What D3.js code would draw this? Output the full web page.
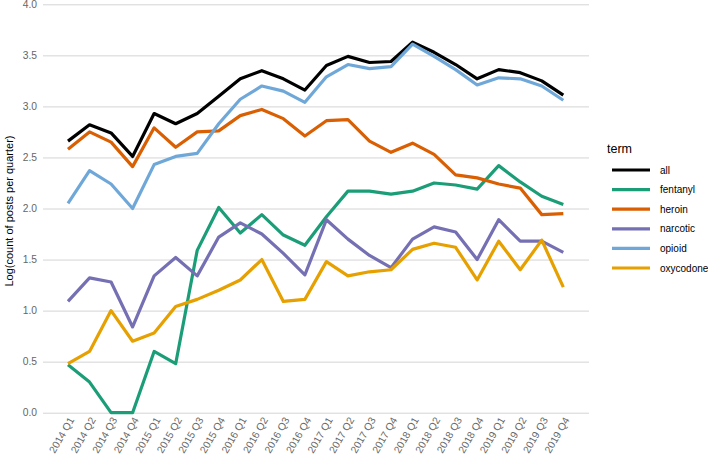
<!DOCTYPE html>
<html>
<head>
<meta charset="utf-8">
<script src="https://cdn.jsdelivr.net/npm/d3@7"></script>
<style>
  body { margin: 0; background: #fff; }
  svg { display: block; font-family: "Liberation Sans", Arial, sans-serif; }
</style>
</head>
<body>
<svg id="chart" width="708" height="456"></svg>
<script>
// data
let quarters = [];
[2014, 2015, 2016, 2017, 2018, 2019].forEach(yr => {
    ['Q1', 'Q2', 'Q3', 'Q4'].forEach(q => quarters.push(yr + ' ' + q));
});
let yTicks = [0, 0.5, 1, 1.5, 2, 2.5, 3, 3.5, 4];

let terms = ['all', 'fentanyl', 'heroin', 'narcotic', 'opioid', 'oxycodone'];
let termColors = ['#000000', '#1b9e77', '#d95f02', '#7570b3', '#6fa8d8', '#e6a000'];

let allVals = [2.66, 2.82, 2.74, 2.51, 2.93, 2.83, 2.93, 3.10, 3.27, 3.35, 3.27, 3.16,
               3.40, 3.49, 3.43, 3.44, 3.63, 3.53, 3.41, 3.27, 3.36, 3.33, 3.25, 3.11];
let fentanylVals = [0.47, 0.30, 0.00, 0.00, 0.60, 0.48, 1.59, 2.01, 1.76, 1.94, 1.74, 1.64,
                    1.92, 2.17, 2.17, 2.14, 2.17, 2.25, 2.23, 2.19, 2.42, 2.26, 2.12, 2.04];
let heroinVals = [2.58, 2.75, 2.65, 2.41, 2.79, 2.60, 2.75, 2.76, 2.91, 2.97, 2.88, 2.71,
                  2.86, 2.87, 2.66, 2.55, 2.64, 2.53, 2.33, 2.30, 2.24, 2.20, 1.94, 1.95];
let narcoticVals = [1.09, 1.32, 1.28, 0.84, 1.34, 1.52, 1.34, 1.72, 1.86, 1.75, 1.56, 1.35,
                    1.89, 1.70, 1.54, 1.42, 1.70, 1.82, 1.77, 1.50, 1.89, 1.68, 1.68, 1.57];
let opioidVals = [2.05, 2.37, 2.24, 2.00, 2.43, 2.51, 2.54, 2.83, 3.07, 3.20, 3.15, 3.04,
                  3.29, 3.41, 3.37, 3.39, 3.61, 3.49, 3.36, 3.21, 3.28, 3.27, 3.20, 3.06];
let oxycodoneVals = [0.48, 0.60, 1.00, 0.70, 0.78, 1.04, 1.11, 1.20, 1.30, 1.50, 1.09, 1.11,
                     1.48, 1.34, 1.38, 1.40, 1.60, 1.66, 1.62, 1.30, 1.68, 1.40, 1.69, 1.23];
let seriesVals = [allVals, fentanylVals, heroinVals, narcoticVals, opioidVals, oxycodoneVals];

let svg = d3.select('#chart');
let panel = {l: 43, r: 589, t: 4, b: 413};

let xScale = d3.scalePoint().domain(quarters).range([68, 563.3]);
let yScale = d3.scaleLinear().domain([0, 4]).range([412.7, 4.3]);

// grid lines + y labels
let yAxis = d3.axisLeft(yScale)
    .tickValues(yTicks)
    .tickFormat(d3.format('.1f'))
    .tickSizeInner(-(panel.r - panel.l))
    .tickSizeOuter(0)
    .tickPadding(6);
let yAxisG = svg.append('g')
    .attr('class', 'y axis')
    .attr('transform', `translate(${panel.l},0)`)
    .call(yAxis);
yAxisG.select('.domain').remove();
yAxisG.selectAll('line').attr('stroke', '#d4d4d4').attr('stroke-width', 1);
yAxisG.selectAll('text')
    .attr('fill', '#666')
    .style('font-size', '10.3px')
    .attr('font-family', null);

// x labels
let xAxis = d3.axisBottom(xScale).tickSize(0).tickPadding(0);
let xAxisG = svg.append('g')
    .attr('class', 'x axis')
    .attr('transform', `translate(0,${panel.b})`)
    .call(xAxis);
xAxisG.select('.domain').remove();
xAxisG.selectAll('text')
    .attr('fill', '#666')
    .style('font-size', '10.3px')
    .attr('font-family', null)
    .attr('text-anchor', 'end')
    .attr('dy', '0.35em')
    .attr('y', 0)
    .attr('transform', 'translate(3,5) rotate(-60)');

// y title
svg.append('text')
    .attr('transform', `translate(13,211) rotate(-90)`)
    .attr('text-anchor', 'middle')
    .style('font-size', '11px')
    .text('Log(count of posts per quarter)');

// lines
let lineFun = d3.line()
    .x((d, i) => xScale(quarters[i]))
    .y(d => yScale(d));
let pathG = svg.append('g').attr('class', 'pathG');
seriesVals.forEach((vals, k) => {
    pathG.append('path')
        .datum(vals)
        .attr('fill', 'none')
        .attr('stroke', termColors[k])
        .attr('stroke-width', 3.2)
        .attr('stroke-linejoin', 'round')
        .attr('d', lineFun);
});

// legend
let legend = svg.append('g')
    .attr('class', 'legend')
    .attr('transform', 'translate(607,0)');
legend.append('text')
    .attr('x', 0)
    .attr('y', 153)
    .style('font-size', '12.5px')
    .text('term');
terms.forEach((t, k) => {
    let row = legend.append('g').attr('transform', `translate(0,${170 + k * 19.6})`);
    row.append('line')
        .attr('x1', 5).attr('x2', 43)
        .attr('y1', 0).attr('y2', 0)
        .attr('stroke', termColors[k])
        .attr('stroke-width', 3.2);
    row.append('text')
        .attr('x', 53)
        .attr('y', 0)
        .attr('dy', '0.35em')
        .style('font-size', '10px')
        .text(t);
});
</script>
</body>
</html>
